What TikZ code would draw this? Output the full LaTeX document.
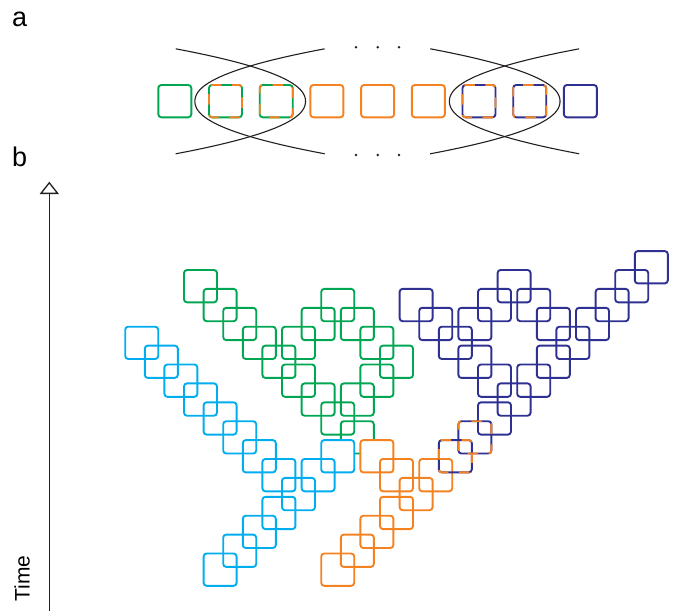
\documentclass[tikz,border=0pt]{standalone}
\usepackage{fontspec}
\setmainfont{Liberation Sans}
\usetikzlibrary{arrows.meta}
\definecolor{grn}{HTML}{00A651}
\definecolor{cyn}{HTML}{00AEEF}
\definecolor{orng}{HTML}{F58220}
\definecolor{navy}{HTML}{2E3192}
\definecolor{ink}{HTML}{231F20}

\begin{document}
\begin{tikzpicture}[x=1pt,y=-1pt,
  cell/.style={line width=1.9pt,rounded corners=3pt},
  mix/.style={cell,dash pattern=on 10.5pt off 10.5pt,dash phase=#1},
  lens/.style={ink,line width=1.1pt},
  lbl/.style={inner sep=0pt,font=\fontsize{27}{27}\selectfont}]
\useasboundingbox (0,0) rectangle (675,611);
% panel labels
\node[lbl,anchor=base west] (la) at (12,26) {a};
\node[lbl,anchor=base west] (lb) at (12,166.5) {b};
% panel a: row of cells, left to right
\foreach \k/\col in {0/grn,3/orng,4/orng,5/orng,8/navy} {\draw[cell,draw=\col] ({158.3+50.7*\k},85) rectangle ++(33,32.3);}
\foreach \k/\ca/\cb/\ph in {1/grn/orng/15pt,2/grn/orng/5pt,6/navy/orng/15pt,7/navy/orng/2pt} {
  \draw[cell,draw=\ca] ({158.3+50.7*\k},85) rectangle ++(33,32.3);
  \draw[mix=\ph,draw=\cb] ({158.3+50.7*\k},85) rectangle ++(33,32.3);}
% two lenses: crossing curves, opening left and right
\foreach \cx in {250.2,504.7} {
  \draw[lens] plot[domain=-52.5:52.5,samples=50] ({\cx-55.3+55.3*pow(abs(\x)/35.3,2.15)},{101.3+\x});
  \draw[lens] plot[domain=-52.5:52.5,samples=50] ({\cx+55.3-55.3*pow(abs(\x)/35.3,2.15)},{101.3+\x});}
\foreach \dx in {356,377.7,399} {\fill[ink] (\dx,47.3) circle (1.4); \fill[ink] (\dx,155) circle (1.4);}
% panel b: grid step 19.6 (x), 18.9 (y), origin at (184,270)
\foreach \i/\j in {0/0,1/1,2/2,3/3,4/4,5/3,6/2,7/1,8/2,9/3,10/4,9/5,8/6,7/7,6/6,5/5,8/8} {\draw[cell,draw=grn] ({184+19.6*\i},{270+18.9*\j}) rectangle ++(33,32.3);}
% these two hide the last green cell
\foreach \i/\j in {7/9,9/9} {\fill[white,rounded corners=3pt] ({184+19.6*\i},{270+18.9*\j}) rectangle ++(33,32.3);}
\foreach \i/\j in {-3/3,-2/4,-1/5,0/6,1/7,2/8,3/9,4/10,5/11,6/10,7/9,4/12,3/13,2/14,1/15} {\draw[cell,draw=cyn] ({184+19.6*\i},{270+18.9*\j}) rectangle ++(33,32.3);}
\foreach \i/\j in {9/9,10/10,11/11,12/10,10/12,9/13,8/14,7/15} {\draw[cell,draw=orng] ({184+19.6*\i},{270+18.9*\j}) rectangle ++(33,32.3);}
\foreach \i/\j in {11/1,12/2,13/3,14/2,15/1,16/0,17/1,18/2,19/3,20/2,21/1,22/0,23/-1,14/4,15/5,16/6,17/5,18/4,15/7} {\draw[cell,draw=navy] ({184+19.6*\i},{270+18.9*\j}) rectangle ++(33,32.3);}
\foreach \i/\j/\ph in {14/8/5pt,13/9/15pt} {
  \draw[cell,draw=navy] ({184+19.6*\i},{270+18.9*\j}) rectangle ++(33,32.3);
  \draw[mix=\ph,draw=orng] ({184+19.6*\i},{270+18.9*\j}) rectangle ++(33,32.3);}
% time axis
\coordinate (tbot) at (49.3,611);
\coordinate (ttop) at (49.3,181.7);
\draw[ink,line width=1.3pt,-{Triangle[open,length=12.3pt,width=19pt]}] (tbot) -- (ttop);
\node[inner sep=0pt,rotate=90,anchor=base west,font=\fontsize{21}{21}\selectfont] (tlab) at (29.5,601.5) {Time};
\end{tikzpicture}
\end{document}
